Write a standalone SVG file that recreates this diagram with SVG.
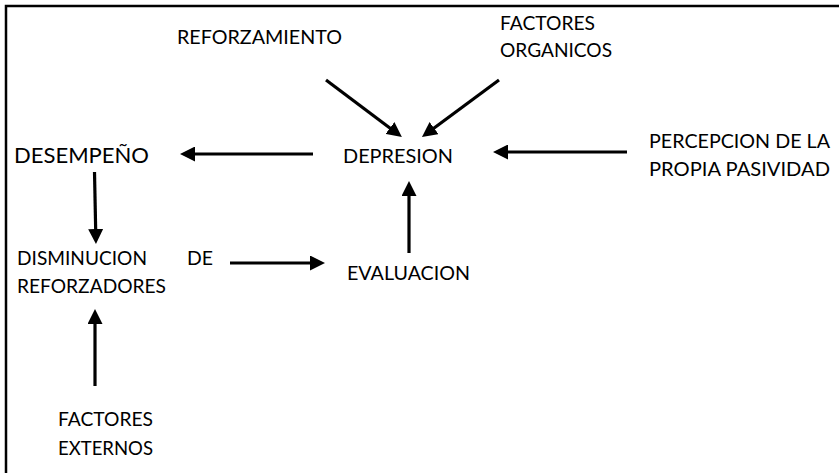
<svg xmlns="http://www.w3.org/2000/svg" width="839" height="473" viewBox="0 0 839 473">
<defs>
<style>
text{font-family:"Lato","Open Sans","Liberation Sans",sans-serif;font-size:19.5px;fill:#000}
.big{font-size:21px}
.c{stroke:#000;stroke-width:3.2;fill:none;marker-end:url(#ah)}
</style>
<marker id="ah" markerUnits="userSpaceOnUse" viewBox="0 0 15 15" refX="7" refY="7.5" markerWidth="15" markerHeight="15" orient="auto">
<path d="M0,0 L15,7.5 L0,15 Z" fill="#000"/>
</marker>
</defs>
<rect width="839" height="473" fill="#fff"/>
<path d="M6,473 V6 H839" fill="none" stroke="#000" stroke-width="2.5"/>
<g id="connectors">
<line class="c" x1="313" y1="154" x2="188" y2="154"/>
<line class="c" x1="627" y1="152" x2="501" y2="152"/>
<line class="c" x1="326" y1="80" x2="395.5" y2="132.2"/>
<line class="c" x1="499" y1="80" x2="428.4" y2="132.2"/>
<line class="c" x1="409" y1="253" x2="409" y2="189"/>
<line class="c" x1="94.5" y1="172" x2="95.8" y2="236"/>
<line class="c" x1="230" y1="263" x2="317" y2="263"/>
<line class="c" x1="95" y1="386" x2="95" y2="317"/>
</g>
<g id="reforzamiento"><text x="177" y="43.5" textLength="165" lengthAdjust="spacingAndGlyphs">REFORZAMIENTO</text></g>
<g id="factores-organicos"><text x="500" y="29.5" textLength="95" lengthAdjust="spacingAndGlyphs">FACTORES</text><text x="500" y="57" textLength="112" lengthAdjust="spacingAndGlyphs">ORGANICOS</text></g>
<g id="depresion"><text x="343" y="162.5" textLength="110" lengthAdjust="spacingAndGlyphs">DEPRESION</text></g>
<g id="desempeno"><text class="big" x="14" y="163.3" textLength="135" lengthAdjust="spacingAndGlyphs">DESEMPEÑO</text></g>
<g id="percepcion"><text x="649" y="148" textLength="181" lengthAdjust="spacingAndGlyphs">PERCEPCION DE LA</text><text x="649" y="176" textLength="181" lengthAdjust="spacingAndGlyphs">PROPIA PASIVIDAD</text></g>
<g id="disminucion"><text x="17" y="265" textLength="130" lengthAdjust="spacingAndGlyphs">DISMINUCION</text><text x="187" y="265" textLength="26" lengthAdjust="spacingAndGlyphs">DE</text><text x="17" y="293" textLength="149" lengthAdjust="spacingAndGlyphs">REFORZADORES</text></g>
<g id="evaluacion"><text x="347" y="280" textLength="123" lengthAdjust="spacingAndGlyphs">EVALUACION</text></g>
<g id="factores-externos"><text x="58" y="426" textLength="95" lengthAdjust="spacingAndGlyphs">FACTORES</text><text x="58" y="455" textLength="95" lengthAdjust="spacingAndGlyphs">EXTERNOS</text></g>
</svg>
